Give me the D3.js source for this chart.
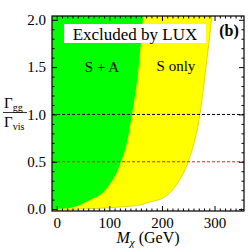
<!DOCTYPE html>
<html>
<head>
<meta charset="utf-8">
<script src="https://cdn.jsdelivr.net/npm/d3@7"></script>
<style>
  html, body { margin: 0; padding: 0; background: #fff; }
  svg { display: block; font-family: "Liberation Serif", "DejaVu Serif", serif; }
</style>
</head>
<body>
<div id="chart"></div>
<script>
// boundary of the S + A exclusion (green) and S only (yellow)
const greenM = [0, 25, 63, 92, 122, 134, 143, 156, 164];
const greenR = [0, 0.012, 0.096, 0.2, 0.5, 0.72, 1.0, 1.52, 2.03];
const yellowM = [40, 80, 120, 158, 177, 202, 230, 250, 272, 284, 295];
const yellowR = [0, 0.008, 0.022, 0.043, 0.075, 0.117, 0.276, 0.5, 0.994, 1.51, 2.03];

const xTicks = [0, 100, 200, 300];
const xTickLabels = ["0", "100", "200", "300"];
const yTicks = [0, 0.5, 1.0, 1.5, 2.0];
const yTickLabels = ["0.0", "0.5", "1.0", "1.5", "2.0"];
const refLines = [1.0, 0.5];
const refColors = ["#000", "#e0261a"];

const W = 249, H = 249;
const frame = { left: 52, right: 244, top: 16, bottom: 211 };

const x = d3.scaleLinear().domain([-9, 356]).range([frame.left, frame.right]);
const y = d3.scaleLinear().domain([-0.02, 2.04]).range([frame.bottom, frame.top]);

const svg = d3.select("#chart").append("svg").attr("width", W).attr("height", H);

svg.append("clipPath").attr("id", "clip")
  .append("rect")
  .attr("x", frame.left).attr("y", frame.top)
  .attr("width", frame.right - frame.left).attr("height", frame.bottom - frame.top);

const plot = svg.append("g").attr("clip-path", "url(#clip)");

// fill from each boundary up to the top of the frame
const toPoints = (ms, rs) =>
  [{ M: x.domain()[0], r: y.domain()[0] }].concat(ms.map((m, i) => ({ M: m, r: rs[i] })));

const area = d3.area()
  .x((d) => x(d.M))
  .y0(y(y.domain()[1]))
  .y1((d) => y(d.r))
  .curve(d3.curveMonotoneX);

plot.append("path")
  .datum(toPoints(yellowM, yellowR))
  .attr("fill", "#ffff00")
  .attr("stroke", "#c9b800")
  .attr("stroke-width", 0.6)
  .attr("d", area);

plot.append("path")
  .datum(toPoints(greenM, greenR))
  .attr("fill", "#00ff00")
  .attr("d", area);

// dashed reference lines
plot.selectAll(".ref")
  .data(refLines)
  .join("line")
  .attr("class", "ref")
  .attr("x1", frame.left).attr("x2", frame.right)
  .attr("y1", (d) => y(d)).attr("y2", (d) => y(d))
  .attr("stroke", (d, i) => refColors[i])
  .attr("stroke-width", 1)
  .attr("stroke-dasharray", "3,2");

// label box
plot.append("rect")
  .attr("x", 64).attr("y", 24).attr("width", 142).attr("height", 19)
  .attr("fill", "#fff");
svg.append("text")
  .attr("x", 135).attr("y", 40)
  .attr("text-anchor", "middle")
  .style("font-size", "17px")
  .text("Excluded by LUX");

svg.append("text")
  .attr("x", 229).attr("y", 36)
  .attr("text-anchor", "middle")
  .style("font-size", "16px")
  .style("font-weight", "bold")
  .text("(b)");

svg.append("text")
  .attr("x", 102).attr("y", 72)
  .attr("text-anchor", "middle")
  .style("font-size", "15px")
  .text("S + A");

svg.append("text")
  .attr("x", 176).attr("y", 71)
  .attr("text-anchor", "middle")
  .style("font-size", "15px")
  .text("S only");

// frame and ticks (inward, on all sides)
const xMinor = d3.range(0, 351, 10).filter((v) => !xTicks.includes(v));
const yMinor = d3.range(0, 2.001, 0.1).map((v) => +v.toFixed(1)).filter((v) => !yTicks.includes(v));

const styleAxis = (g) => {
  g.select(".domain").remove();
  g.selectAll("line").attr("stroke", "#000");
  g.selectAll("text").style("font-size", "15px").style("font-family", "Liberation Serif, serif").attr("fill", "#000");
};

svg.append("g")
  .attr("transform", `translate(0,${frame.bottom})`)
  .call(d3.axisBottom(x).tickValues(xTicks).tickSize(-5).tickPadding(6)
    .tickFormat((d, i) => xTickLabels[i]))
  .call(styleAxis);
svg.append("g")
  .attr("transform", `translate(0,${frame.bottom})`)
  .call(d3.axisBottom(x).tickValues(xMinor).tickSize(-2.5).tickFormat(""))
  .call(styleAxis);
svg.append("g")
  .attr("transform", `translate(0,${frame.top})`)
  .call(d3.axisTop(x).tickValues(xTicks).tickSize(-5).tickFormat(""))
  .call(styleAxis);
svg.append("g")
  .attr("transform", `translate(0,${frame.top})`)
  .call(d3.axisTop(x).tickValues(xMinor).tickSize(-2.5).tickFormat(""))
  .call(styleAxis);

svg.append("g")
  .attr("transform", `translate(${frame.left},0)`)
  .call(d3.axisLeft(y).tickValues(yTicks).tickSize(-5).tickPadding(6)
    .tickFormat((d, i) => yTickLabels[i]))
  .call(styleAxis);
svg.append("g")
  .attr("transform", `translate(${frame.left},0)`)
  .call(d3.axisLeft(y).tickValues(yMinor).tickSize(-2.5).tickFormat(""))
  .call(styleAxis);
svg.append("g")
  .attr("transform", `translate(${frame.right},0)`)
  .call(d3.axisRight(y).tickValues(yTicks).tickSize(-5).tickFormat(""))
  .call(styleAxis);
svg.append("g")
  .attr("transform", `translate(${frame.right},0)`)
  .call(d3.axisRight(y).tickValues(yMinor).tickSize(-2.5).tickFormat(""))
  .call(styleAxis);

svg.append("rect")
  .attr("x", frame.left).attr("y", frame.top)
  .attr("width", frame.right - frame.left).attr("height", frame.bottom - frame.top)
  .attr("fill", "none").attr("stroke", "#000").attr("stroke-width", 1.2);

// axis titles
const xt = svg.append("text")
  .attr("x", (frame.left + frame.right) / 2).attr("y", 243)
  .attr("text-anchor", "middle")
  .style("font-size", "16px");
xt.append("tspan").style("font-style", "italic").text("M");
xt.append("tspan").style("font-size", "11px").attr("dy", 3).style("font-style", "italic").text("χ");
xt.append("tspan").attr("dy", -3).text(" (GeV)");

const num = svg.append("text").attr("x", 4).attr("y", 108).style("font-size", "15px");
num.append("tspan").text("Γ");
num.append("tspan").style("font-size", "10px").attr("dy", 3).text("gg");

svg.append("line")
  .attr("x1", 3).attr("x2", 27).attr("y1", 112.5).attr("y2", 112.5)
  .attr("stroke", "#000").attr("stroke-width", 0.8);

const den = svg.append("text").attr("x", 4).attr("y", 127).style("font-size", "15px");
den.append("tspan").text("Γ");
den.append("tspan").style("font-size", "10px").attr("dy", 3).text("vis");
</script>
</body>
</html>
